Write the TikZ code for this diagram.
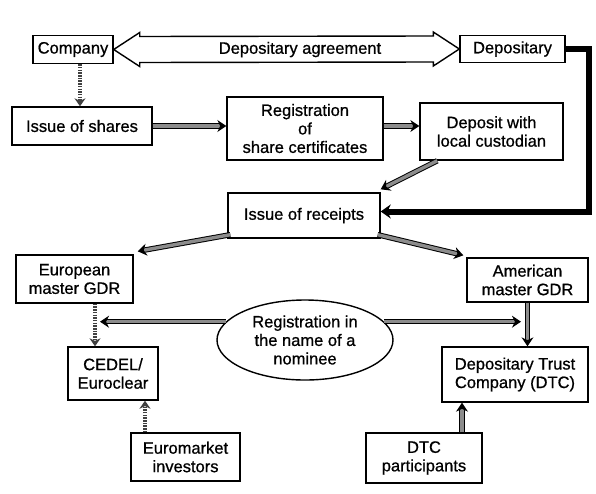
\documentclass[tikz,border=0pt]{standalone}
\usepackage{fontspec}
\setmainfont[FakeBold=0.8]{Liberation Sans}
\usetikzlibrary{arrows.meta,calc,shapes.geometric}
\begin{document}
\begin{tikzpicture}[x=1pt,y=-1pt,
  txt/.style={font=\fontsize{16.5}{18.5}\selectfont},
  box/.style={txt, draw=black, line width=1.4pt, inner sep=0pt, align=center},
  conn/.style={draw=black, line width=1pt, double=black!45, double distance=3.4pt, -{Stealth[length=9pt,width=12pt]}},
  conndot/.style={draw=black!75, line width=4pt, dash pattern=on 1.5pt off 1.2pt, -{Stealth[length=8pt,width=11pt]}},
  connbold/.style={draw=black, line width=6pt, -{Stealth[length=10pt,width=14pt]}},
  agr/.style={draw=black, line width=1.4pt, fill=white}
]
\useasboundingbox (0,0) rectangle (596,493);

% nodes
\node[box, minimum width=80pt, minimum height=28pt] (comp) at (73,49.5) {Company};
\node[box, minimum width=105pt, minimum height=27pt] (depo) at (512.5,49) {Depositary};
\node[box, minimum width=140pt, minimum height=38pt] (shares) at (82,126) {Issue of shares};
\node[box, minimum width=156pt, minimum height=63pt] (reg) at (305,128.5) {Registration\\of\\share certificates};
\node[box, minimum width=143pt, minimum height=57pt] (dep) at (491.5,131.5) {Deposit with\\local custodian};
\node[box, minimum width=152pt, minimum height=45pt] (rec) at (304,215.5) {Issue of receipts};
\node[box, minimum width=117pt, minimum height=48pt] (eu) at (74.5,279) {European\\master GDR};
\node[box, minimum width=121pt, minimum height=44pt] (amer) at (527.5,280) {American\\master GDR};
\node[box, ellipse, minimum width=176pt, minimum height=80pt] (ell) at (305,340) {Registration in\\the name of a\\nominee};
\node[box, minimum width=90pt, minimum height=53pt] (ced) at (113,373.5) {CEDEL/\\Euroclear};
\node[box, minimum width=146pt, minimum height=55pt] (dtc) at (515,374.5) {Depositary Trust\\Company (DTC)};
\node[box, minimum width=109pt, minimum height=48pt] (euro) at (185.5,457) {Euromarket\\investors};
\node[box, minimum width=116pt, minimum height=50pt] (dtcp) at (424,458) {DTC\\participants};

% depositary agreement double arrow
\draw[agr] (comp.east) -- ++(26,-17) -- ++(0,4) -- ($(depo.west)+(-26,-13)$) -- ++(0,-4) -- (depo.west)
  -- ++(-26,17) -- ++(0,-4) -- ($(comp.east)+(26,13)$) -- ++(0,4) -- cycle;
\node[txt] (agrt) at (300,49.5) {Depositary agreement};

% connectors
\draw[conndot] ([xshift=7pt]comp.south) -- ([xshift=7pt]comp.south |- shares.north);
\draw[conn] (shares.east) -- (shares.east -| reg.west);
\draw[conn] ([yshift=2.5pt]reg.east) -- ([yshift=2.5pt]reg.east -| dep.west);
\draw[conn] ($(dep.south west)+(18,0)$) -- ($(rec.north east)+(0,-3)$);
\draw[connbold] (depo.east) -- ++(23,0) |- ([yshift=4pt]rec.east);
\draw[conn] ($(rec.south west)+(3,-4)$) -- ($(eu.north east)+(4,-3)$);
\draw[conn] ($(rec.south east)+(-3,-4)$) -- ($(amer.north west)+(-3,-2)$);

\coordinate (j1) at (100,0);
\coordinate (j2) at (521,0);
\draw[conndot] ([xshift=20.5pt]eu.south) -- ([xshift=20.5pt]eu.south |- ced.north);
\draw[conn] (ell.167) -- (ell.167 -| j1);
\draw[conn] (ell.13) -- (ell.13 -| j2);
\draw[conn] (amer.south) -- (amer.south |- dtc.north);
\draw[conndot] ([xshift=-40.5pt]euro.north) -- ([xshift=-40.5pt]euro.north |- ced.south);
\draw[conn] ([xshift=38pt]dtcp.north) -- ([xshift=38pt]dtcp.north |- dtc.south);
\end{tikzpicture}
\end{document}
